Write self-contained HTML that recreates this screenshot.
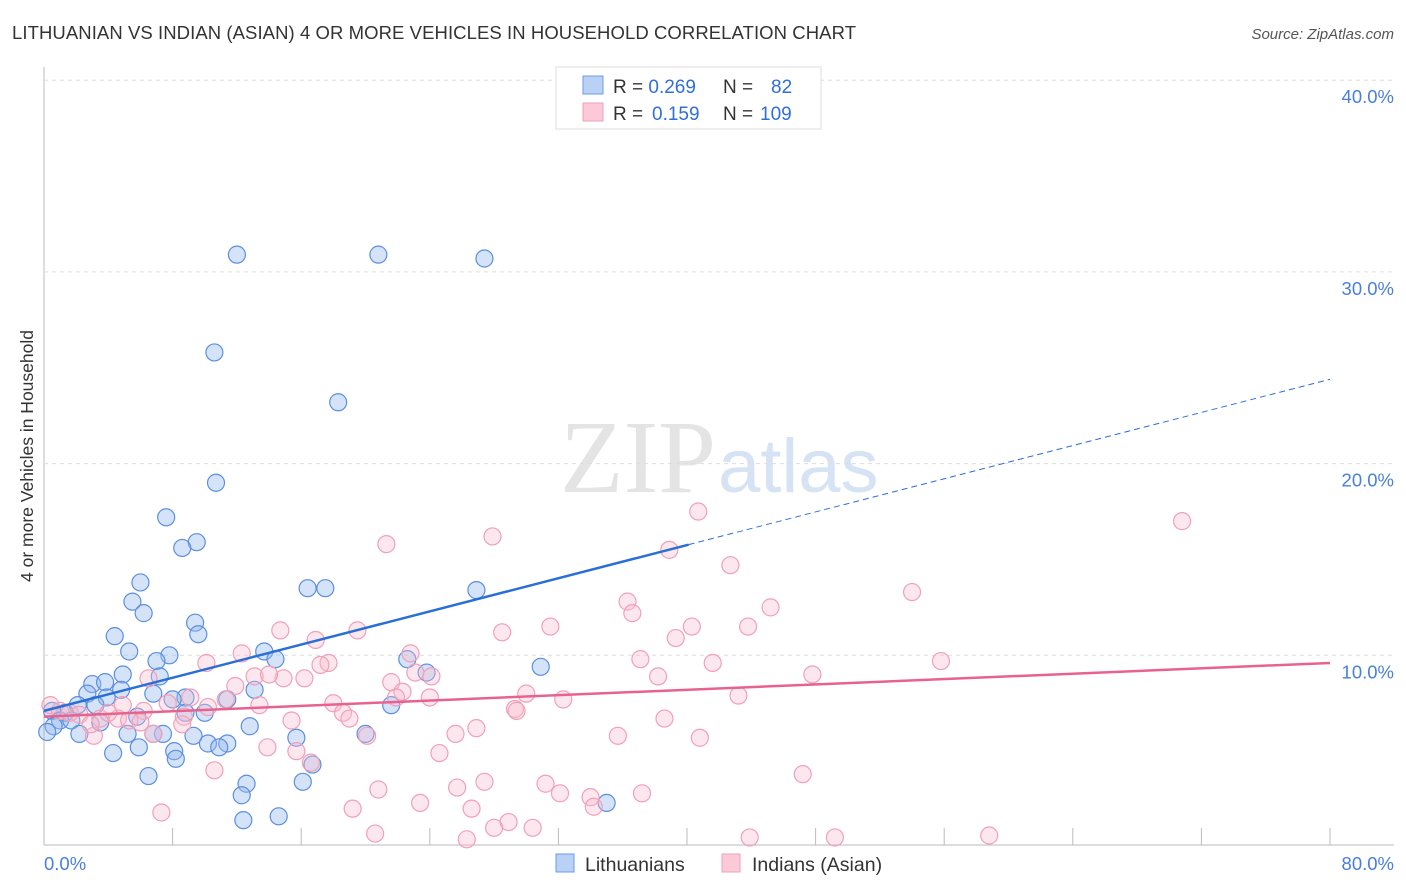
<!DOCTYPE html>
<html><head><meta charset="utf-8"><style>
body{margin:0;width:1406px;height:892px;background:#fff;font-family:"Liberation Sans",sans-serif;overflow:hidden}
</style></head><body>
<svg id="c" width="1406" height="892" style="position:absolute;left:0;top:0">
<text x="12" y="39" font-size="18.5" fill="#333" textLength="844">LITHUANIAN VS INDIAN (ASIAN) 4 OR MORE VEHICLES IN HOUSEHOLD CORRELATION CHART</text>
<text x="1394" y="39" font-size="15" fill="#555" font-style="italic" text-anchor="end">Source: ZipAtlas.com</text>
<text x="716" y="492" font-size="104" fill="#e4e4e4" text-anchor="end" font-family="Liberation Serif,serif">ZIP</text>
<text x="718" y="492" font-size="76" fill="#d6e3f5">atlas</text>
<text transform="translate(33,456) rotate(-90)" font-size="17.5" fill="#333" text-anchor="middle">4 or more Vehicles in Household</text>
<g id="grid"></g><g id="pts"></g><g id="lines"></g>
<g>
<rect x="556" y="67" width="265" height="62" fill="#fff" stroke="#ddd"/>
<rect x="583" y="76" width="20" height="18" fill="#b9d1f5" stroke="#6b9be6"/>
<rect x="583" y="103" width="20" height="18" fill="#fbc9d8" stroke="#f0a0b8"/>
<text x="613" y="93" font-size="19" fill="#333">R = <tspan fill="#2f6fd8">0.269</tspan><tspan x="723">N = </tspan><tspan x="771" fill="#2f6fd8">82</tspan></text>
<text x="613" y="120" font-size="19" fill="#333">R = <tspan x="652" fill="#2f6fd8">0.159</tspan><tspan x="723">N = </tspan><tspan x="760" fill="#2f6fd8">109</tspan></text>
</g>
<rect x="556" y="854" width="18" height="18" fill="#b9d1f5" stroke="#6b9be6"/>
<text x="585" y="871" font-size="19.5" fill="#333">Lithuanians</text>
<rect x="722" y="854" width="18" height="18" fill="#fbc9d8" stroke="#f0a0b8"/>
<text x="752" y="871" font-size="19.5" fill="#333">Indians (Asian)</text>
</svg>
<script>
const yTicks=[10,20,30,40];
const xTickCount=10;
const blueX=[12.0,20.8,27.4,10.6,18.3,10.7,7.6,9.5,8.6,6.0,16.4,17.5,26.9,5.5,6.2,9.4,4.4,9.6,5.3,13.7,14.4,7.8,7.0,22.6,30.9,4.9,23.8,7.2,3.0,3.8,4.8,2.7,6.8,13.1,3.9,8.8,8.0,11.4,3.2,2.1,21.6,10.0,8.8,1.3,5.8,0.5,1.0,1.7,12.8,3.5,0.6,0.2,2.2,5.2,7.4,6.8,9.3,15.7,20.0,10.2,11.4,10.9,5.9,4.3,8.1,8.2,16.7,6.5,12.6,16.1,12.3,35.0,12.4,14.6];
const blueY=[30.9,30.9,30.7,25.8,23.2,19.0,17.2,15.9,15.6,13.8,13.5,13.5,13.4,12.8,12.2,11.7,11.0,11.1,10.2,10.2,9.8,10.0,9.7,9.8,9.4,9.0,9.1,8.9,8.5,8.6,8.2,8.0,8.0,8.2,7.8,7.8,7.7,7.7,7.4,7.4,7.4,7.0,7.0,7.0,6.8,7.1,6.6,6.6,6.3,6.5,6.3,6.0,5.9,5.9,5.9,5.9,5.8,5.7,5.9,5.4,5.4,5.2,5.2,4.9,5.0,4.6,4.3,3.7,3.3,3.4,2.7,2.3,1.4,1.6];
const pinkX=[40.7,70.8,27.9,21.3,38.9,42.7,54.0,36.3,45.2,36.6,31.5,43.8,40.3,19.5,14.7,28.5,39.3,16.9,22.8,12.3,37.1,41.6,55.8,10.1,17.7,17.2,47.8,38.2,24.1,13.1,6.5,14.9,16.2,14.0,23.1,21.6,11.9,22.3,21.9,30.0,43.2,9.1,24.0,32.3,11.3,18.0,7.7,4.9,13.4,10.2,29.3,29.4,18.6,8.7,15.4,19.0,6.2,4.6,38.6,8.6,26.9,25.6,20.1,35.7,40.8,3.1,6.8,13.9,15.7,24.6,16.6,10.6,47.2,27.4,25.7,31.2,20.8,37.2,32.1,34.0,23.4,19.2,26.6,34.2,7.3,28.9,28.0,30.4,20.6,58.8,26.3,43.9,49.2,0.4,1.0,1.6,2.2,3.5,4.0,5.3,2.9,6.0];
const pinkY=[17.5,17.0,16.2,15.8,15.5,14.7,13.3,12.8,12.5,12.2,11.5,11.5,11.5,11.3,11.3,11.2,10.9,10.8,10.1,10.1,9.8,9.6,9.7,9.6,9.6,9.5,9.0,8.9,8.9,8.9,8.8,8.8,8.8,9.0,9.1,8.6,8.4,8.1,7.8,8.0,7.9,7.8,7.8,7.7,7.7,7.5,7.5,7.4,7.4,7.3,7.2,7.1,7.0,6.8,6.6,6.7,7.1,6.7,6.7,6.4,6.2,5.9,5.8,5.8,5.7,5.8,5.9,5.2,5.0,4.9,4.4,4.0,3.8,3.4,3.1,3.3,3.0,2.8,2.8,2.6,2.3,2.0,2.0,2.1,1.8,1.3,1.0,1.0,0.7,0.6,0.4,0.5,0.5,7.4,7.1,7.0,6.9,6.7,7.0,6.6,6.4,6.5];
const blueTrend=[7.1,24.4];const blueSolidEnd=40.1;
const pinkTrend=[6.8,9.6];
const NS='http://www.w3.org/2000/svg';
const X=v=>44+v/80*1286, Y=v=>847-v*19.17;
function mk(t,a,p){const e=document.createElementNS(NS,t);for(const k in a)e.setAttribute(k,a[k]);p.appendChild(e);return e;}
const g=document.getElementById('grid');
mk('line',{x1:44,y1:67,x2:44,y2:845,stroke:'#bbb'},g);
mk('line',{x1:44,y1:845,x2:1394,y2:845,stroke:'#bbb'},g);
yTicks.forEach(t=>{
 const l=mk('line',{x1:44,y1:Y(t),x2:1394,y2:Y(t),stroke:'#ddd','stroke-dasharray':'4,4'},g);
 
 
 const tx=mk('text',{x:1394,y:Y(t)+23,'font-size':18.5,fill:'#4a7fd8','text-anchor':'end'},g);
 tx.textContent=t.toFixed(1)+'%';
 
 
});
for(let i=1;i<=xTickCount;i++){const xx=X(i*8);mk('line',{x1:xx,y1:828,x2:xx,y2:845,stroke:'#bbb'},g);}
const x0=mk('text',{x:44,y:870,'font-size':18.5,fill:'#4a7fd8'},g);x0.textContent='0.0%';


const x1=mk('text',{x:1394,y:870,'font-size':18.5,fill:'#4a7fd8','text-anchor':'end'},g);x1.textContent='80.0%';


const P=document.getElementById('pts');
blueX.forEach((v,i)=>{const c=mk('circle',{cx:X(v),cy:Y(blueY[i]),r:8.5,fill:'rgba(150,185,240,0.4)',stroke:'#5b8fe0','stroke-width':1.2},P);

});
pinkX.forEach((v,i)=>{const c=mk('circle',{cx:X(v),cy:Y(pinkY[i]),r:8.5,fill:'rgba(248,185,205,0.35)',stroke:'#f0a0b8','stroke-width':1.2},P);

});
const L=document.getElementById('lines');
const by=x=>blueTrend[0]+(blueTrend[1]-blueTrend[0])*x/80;
const b1=mk('line',{x1:X(0),y1:Y(by(0)),x2:X(blueSolidEnd),y2:Y(by(blueSolidEnd)),stroke:'#2a6fd6','stroke-width':2.5},L);


const b2=mk('line',{x1:X(blueSolidEnd),y1:Y(by(blueSolidEnd)),x2:X(80),y2:Y(by(80)),stroke:'#2a6fd6','stroke-width':1,'stroke-dasharray':'6,4'},L);


const p1=mk('line',{x1:X(0),y1:Y(pinkTrend[0]),x2:X(80),y2:Y(pinkTrend[1]),stroke:'#e8628e','stroke-width':2.5},L);


</script>
</body></html>
